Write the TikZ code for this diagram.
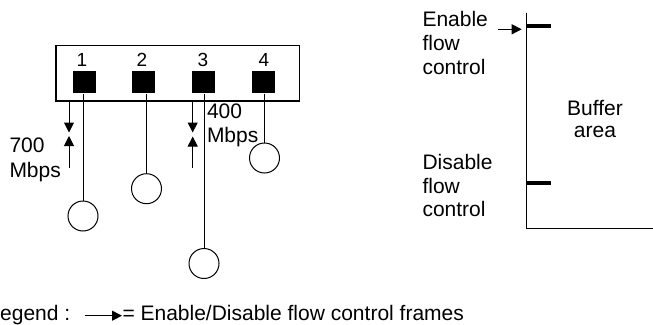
\documentclass[tikz,border=0pt]{standalone}
\usepackage{fontspec}
\setmainfont{Liberation Sans}
\usetikzlibrary{arrows.meta}
\begin{document}
\begin{tikzpicture}[x=1pt,y=-1pt,
  line width=1pt,
  port/.style={fill=black,draw=none,minimum width=23.5pt,minimum height=22pt,inner sep=0pt},
  station/.style={draw,circle,minimum size=30pt,inner sep=0pt,line width=1pt},
  num/.style={font=\fontsize{19}{21}\selectfont,anchor=base,inner sep=0pt},
  lab/.style={font=\fontsize{21}{24}\selectfont,align=left,anchor=base west,inner sep=0pt},
  fc/.style={-{Triangle[length=10pt,width=10pt]},line width=1pt},
  tick/.style={line width=4pt}
]
\useasboundingbox (0,0) rectangle (653,324);

% switch box
\node[draw,line width=1.1pt,minimum width=243.5pt,minimum height=55.7pt,inner sep=0pt] (box) at (177.75,73.15) {};
\node[port] (p1) at (84.5,82) {};
\node[port] (p2) at (143.3,82) {};
\node[port] (p3) at (203.3,82) {};
\node[port] (p4) at (263.3,82) {};
\node[num] (n1) at (82,66.5) {1};
\node[num] (n2) at (142,66.5) {2};
\node[num] (n3) at (203,66.5) {3};
\node[num] (n4) at (264,66.5) {4};

% stations
\node[station] (c1) at (83,216) {};
\node[station] (c2) at (146.5,188.7) {};
\node[station] (c3) at (204,263.5) {};
\node[station] (c4) at (264.5,158) {};
\draw (p1.south -| c1.north) -- (c1.north);
\draw (p2.south -| c2.north) -- (c2.north);
\draw (p3.south -| c3.north) -- (c3.north);
\draw (p4.south -| c4.north) -- (c4.north);

% flow control arrows at ports 1 and 3
\coordinate (a1s) at (69,101);
\coordinate (a1e) at (69,132.5);
\coordinate (b1s) at (69,167.7);
\coordinate (b1e) at (69,136);
\coordinate (a3s) at (192.7,101);
\coordinate (a3e) at (192.7,132.5);
\coordinate (b3s) at (192.7,168);
\coordinate (b3e) at (192.7,136.5);
\draw[fc] (a1s) -- (a1e);
\draw[fc] (b1s) -- (b1e);
\draw[fc] (a3s) -- (a3e);
\draw[fc] (b3s) -- (b3e);
\node[lab,font=\fontsize{21}{25}\selectfont] (r700) at (9,177) {700\\Mbps};
\node[lab,font=\fontsize{21}{24.5}\selectfont] (r400) at (206.5,142.5) {400\\Mbps};

% buffer
\coordinate (btop) at (526.7,12.7);
\coordinate (bcorner) at (526.7,228.3);
\coordinate (bright) at (653,228.3);
\draw (btop) -- (bcorner) -- (bright);
\coordinate (en) at (526.7,26);
\coordinate (enr) at (550.7,26);
\coordinate (dis) at (526.7,183.3);
\coordinate (disr) at (550.7,183.3);
\draw[tick] (en) -- (enr);
\draw[tick] (dis) -- (disr);
\coordinate (ena) at (498,29.3);
\coordinate (enb) at (521.7,29.3);
\draw[fc] (ena) -- (enb);
\node[lab] (enl) at (422,74) {Enable\\flow\\control};
\node[lab,font=\fontsize{21}{23.6}\selectfont] (disl) at (422,216.7) {Disable\\flow\\control};
\node[font=\fontsize{21}{22}\selectfont,align=center,anchor=base,inner sep=0pt] (buf) at (595,137) {Buffer\\area};

% legend
\node[font=\fontsize{21}{24}\selectfont,anchor=base west,inner sep=0pt] (leg) at (-12,320.5) {Legend :};
\node[font=\fontsize{21}{24}\selectfont,anchor=base west,inner sep=0pt] (legt) at (122,320.5) {= Enable/Disable flow control frames};
\coordinate (lga) at (85,315.7);
\draw[fc] (lga) -- (legt.west |- lga);
\end{tikzpicture}
\end{document}
